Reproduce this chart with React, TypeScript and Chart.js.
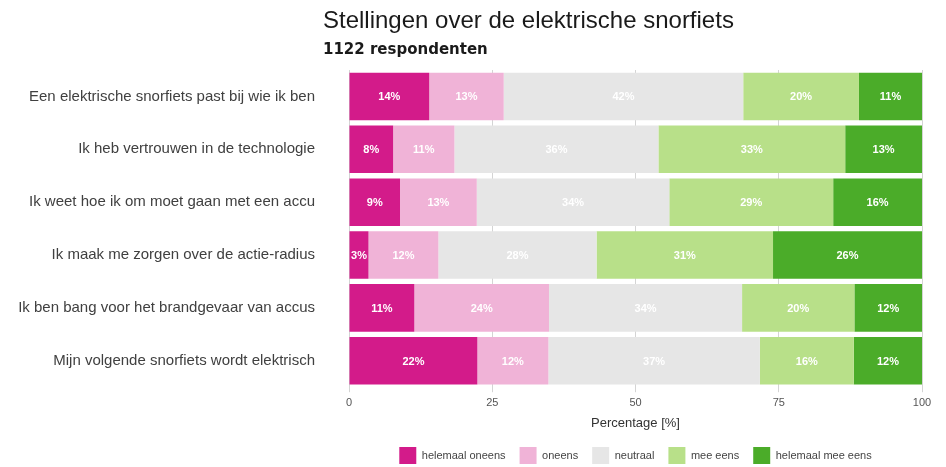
import React, { useEffect, useRef } from 'react';
import { Chart, registerables } from 'chart.js';

Chart.register(...registerables);

const TITLE = 'Stellingen over de elektrische snorfiets';
const SUBTITLE = '1122 respondenten';
const X_TITLE = 'Percentage [%]';

const STATEMENTS = [
  'Een elektrische snorfiets past bij wie ik ben',
  'Ik heb vertrouwen in de technologie',
  'Ik weet hoe ik om moet gaan met een accu',
  'Ik maak me zorgen over de actie-radius',
  'Ik ben bang voor het brandgevaar van accus',
  'Mijn volgende snorfiets wordt elektrisch',
];

const SERIES_NAMES = ['helemaal oneens', 'oneens', 'neutraal', 'mee eens', 'helemaal mee eens'];

const HELEMAAL_ONEENS = [14, 7.7, 8.9, 3.4, 11.4, 22.4];
const ONEENS = [13, 10.7, 13.4, 12.2, 23.5, 12.4];
const NEUTRAAL = [41.8, 35.6, 33.6, 27.6, 33.7, 36.9];
const MEE_EENS = [20.2, 32.6, 28.6, 30.8, 19.6, 16.4];
const HELEMAAL_MEE_EENS = [11, 13.4, 15.5, 26, 11.8, 11.9];

const X_TICKS = [0, 25, 50, 75, 100];

const COLORS = ['#d31b8a', '#f0b3d7', '#e6e6e6', '#b8e089', '#4bac29'];

const FONT = '"Liberation Sans", Arial, sans-serif';

const barLabels = {
  id: 'barLabels',
  afterDatasetsDraw(chart: any) {
    const ctx = chart.ctx;
    ctx.save();
    ctx.font = `bold 11px ${FONT}`;
    ctx.fillStyle = '#ffffff';
    ctx.textAlign = 'center';
    ctx.textBaseline = 'middle';
    chart.data.datasets.forEach((ds: any, i: number) => {
      const meta = chart.getDatasetMeta(i);
      meta.data.forEach((el: any, j: number) => {
        const v = ds.data[j];
        const p = el.getProps(['x', 'base', 'y'], true);
        ctx.fillText(`${Math.round(v)}%`, (p.x + p.base) / 2, p.y + 1);
      });
    });
    ctx.restore();
  },
};

const headerPlugin = {
  id: 'header',
  afterDraw(chart: any) {
    const ctx = chart.ctx;
    const left = chart.chartArea.left - 26;
    ctx.save();
    ctx.textAlign = 'left';
    ctx.textBaseline = 'alphabetic';
    ctx.fillStyle = '#1a1a1a';
    ctx.font = `24px ${FONT}`;
    ctx.fillText(TITLE, left, 28);
    ctx.font = `bold 15px "DejaVu Sans", ${FONT}`;
    ctx.fillText(SUBTITLE, left, 54);
    ctx.restore();
  },
};

export default function App() {
  const ref = useRef<HTMLCanvasElement | null>(null);

  useEffect(() => {
    if (!ref.current) return;
    const seriesValues = [HELEMAAL_ONEENS, ONEENS, NEUTRAAL, MEE_EENS, HELEMAAL_MEE_EENS];
    const chart = new Chart(ref.current, {
      type: 'bar',
      data: {
        labels: STATEMENTS,
        datasets: SERIES_NAMES.map((name, i) => ({
          label: name,
          data: seriesValues[i],
          backgroundColor: COLORS[i],
          borderWidth: 0,
          barPercentage: 0.9,
          categoryPercentage: 1,
        })),
      },
      options: {
        indexAxis: 'y',
        animation: false,
        responsive: true,
        maintainAspectRatio: false,
        layout: { padding: { top: 70, left: 0, right: 24, bottom: -7 } },
        scales: {
          x: {
            stacked: true,
            min: 0,
            max: 100,
            afterBuildTicks(scale: any) {
              scale.ticks = X_TICKS.map((v) => ({ value: v }));
            },
            grid: { color: '#d4d4d4', tickLength: 5, drawOnChartArea: true },
            border: { display: false },
            ticks: { color: '#555', font: { family: FONT, size: 11 }, padding: 4 },
            title: {
              display: true,
              text: X_TITLE,
              color: '#333',
              font: { family: FONT, size: 13 },
              padding: { top: 2, bottom: 2 },
            },
          },
          y: {
            stacked: true,
            grid: { display: false },
            border: { display: false },
            afterFit(scale: any) {
              scale.width = 349;
            },
            ticks: { color: '#404040', font: { family: FONT, size: 15 }, padding: 26 },
          },
        },
        plugins: {
          legend: {
            position: 'bottom',
            fullSize: false,
            labels: {
              boxWidth: 17,
              boxHeight: 17,
              padding: 14,
              color: '#444',
              font: { family: FONT, size: 11 },
            },
          },
          title: { display: false },
          tooltip: { enabled: false },
        },
      },
      plugins: [barLabels, headerPlugin],
    });
    return () => chart.destroy();
  }, []);

  return (
    <div style={{ position: 'fixed', left: 0, top: 0, width: 946, height: 467, background: '#fff' }}>
      <canvas ref={ref} />
    </div>
  );
}
